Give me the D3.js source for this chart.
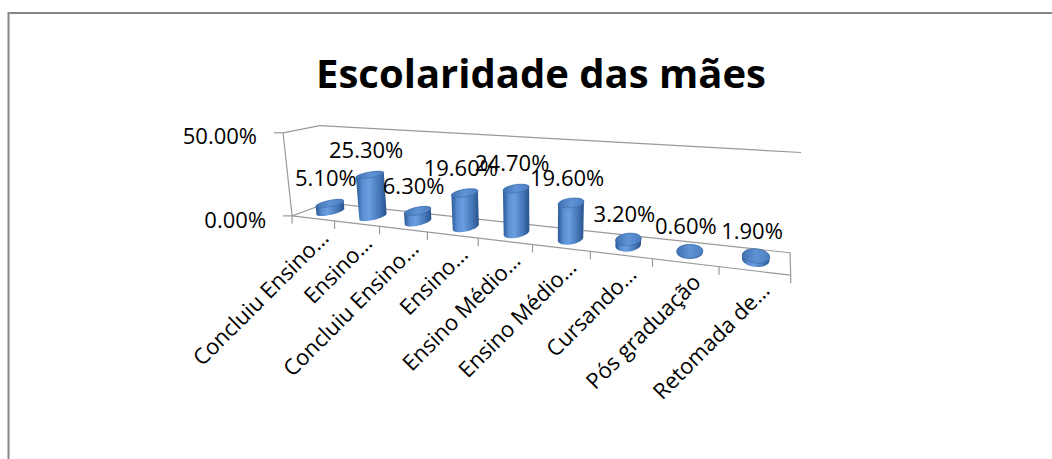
<!DOCTYPE html>
<meta charset="utf-8">
<title>Escolaridade das mães</title>
<style>
body { margin: 0; background: #fff; }
text { font-family: "Open Sans", sans-serif; fill: #000; }
</style>
<body>
<script src="https://d3js.org/d3.v7.min.js"></script>
<script>

var title = "Escolaridade das mães";
var categories = ["Concluiu Ensino…", "Ensino…", "Concluiu Ensino…", "Ensino…",
                  "Ensino Médio…", "Ensino Médio…", "Cursando…", "Pós graduação", "Retomada de…"];
var values = [0.051, 0.253, 0.063, 0.196, 0.247, 0.196, 0.032, 0.006, 0.019];
var valueTicks = [0, 0.5];

var width = 1052, height = 459;

var svg = d3.select("body").append("svg")
    .attr("width", width)
    .attr("height", height);

// world space: x = category slot, y = share of value axis, z = depth (0 front, 1 back)
var x = d3.scaleBand().domain(d3.range(categories.length)).range([0, categories.length]);
var y = d3.scaleLinear().domain([0, 0.5]).range([0, 1]);
var nx = categories.length;

// where the box corners / floor ticks land on screen; the camera is fitted to these
var anchors = [
  [[0, 0, 0], [293, 216]], [[1, 0, 0], [335, 221]], [[2, 0, 0], [378, 226]],
  [[3, 0, 0], [427, 232]], [[4, 0, 0], [477, 238]], [[5, 0, 0], [533, 245]],
  [[6, 0, 0], [592, 252]], [[7, 0, 0], [652, 259]], [[8, 0, 0], [720, 266]],
  [[9, 0, 0], [790, 274]],
  [[9, 0, 1], [790, 253]],
  [[0, 1, 1], [320, 125]], [[9, 1, 1], [801, 153]],
  [[0, 1, 0], [283, 133]]
];

var cx0 = 540, cy0 = 200, cs = 250;
var cam = fitCamera(anchors);

function project(X, Y, Z) {
  var w = cam[8] * X + cam[9] * Y + cam[10] * Z + 1;
  return [
    cx0 + cs * (cam[0] * X + cam[1] * Y + cam[2] * Z + cam[3]) / w,
    cy0 + cs * (cam[4] * X + cam[5] * Y + cam[6] * Z + cam[7]) / w
  ];
}

function fitCamera(pts) {
  var A = [], b = [];
  pts.forEach(function(p) {
    var X = p[0][0], Y = p[0][1], Z = p[0][2];
    var u = (p[1][0] - cx0) / cs, v = (p[1][1] - cy0) / cs;
    A.push([X, Y, Z, 1, 0, 0, 0, 0, -u * X, -u * Y, -u * Z]); b.push(u);
    A.push([0, 0, 0, 0, X, Y, Z, 1, -v * X, -v * Y, -v * Z]); b.push(v);
  });
  var n = 11, M = [], r = [], i, j, k;
  for (i = 0; i < n; i++) {
    M.push([]); r.push(0);
    for (j = 0; j < n; j++) {
      var s = 0;
      for (k = 0; k < A.length; k++) s += A[k][i] * A[k][j];
      M[i].push(s);
    }
    for (k = 0; k < A.length; k++) r[i] += A[k][i] * b[k];
  }
  for (var c = 0; c < n; c++) {
    var piv = c;
    for (i = c + 1; i < n; i++) if (Math.abs(M[i][c]) > Math.abs(M[piv][c])) piv = i;
    var t = M[c]; M[c] = M[piv]; M[piv] = t;
    t = r[c]; r[c] = r[piv]; r[piv] = t;
    for (i = c + 1; i < n; i++) {
      var f = M[i][c] / M[c][c];
      for (j = c; j < n; j++) M[i][j] -= f * M[c][j];
      r[i] -= f * r[c];
    }
  }
  var p = new Array(n);
  for (i = n - 1; i >= 0; i--) {
    var s2 = r[i];
    for (j = i + 1; j < n; j++) s2 -= M[i][j] * p[j];
    p[i] = s2 / M[i][i];
  }
  return p;
}

// chart border (runs off the right and bottom of the picture)
svg.append("rect")
    .attr("x", 8.5).attr("y", 13)
    .attr("width", 1100).attr("height", 500)
    .attr("fill", "#fff")
    .attr("stroke", "#868686")
    .attr("stroke-width", 2);

svg.append("text")
    .attr("x", 541).attr("y", 88)
    .attr("text-anchor", "middle")
    .style("font-size", "40px")
    .style("font-weight", "bold")
    .text(title);

var defs = svg.append("defs");
var bodyGrad = defs.append("linearGradient").attr("id", "cylBody");
[[0, "#2b5896"], [0.22, "#5a8fd1"], [0.42, "#6b9ee0"], [0.75, "#4678b9"], [1, "#28528c"]]
  .forEach(function(s) { bodyGrad.append("stop").attr("offset", s[0]).attr("stop-color", s[1]); });
var topGrad = defs.append("linearGradient").attr("id", "cylTop");
[[0, "#3f72b3"], [0.5, "#5f93d4"], [1, "#4a7ec0"]]
  .forEach(function(s) { topGrad.append("stop").attr("offset", s[0]).attr("stop-color", s[1]); });

var line = d3.line();
var grid = svg.append("g")
    .attr("fill", "none")
    .attr("stroke", "#9a9a9a")
    .attr("stroke-width", 1.2);

var edges = [
  [[0, 0, 0], [0, 1, 0]],
  [[0, 1, 0], [0, 1, 1]],
  [[0, 1, 1], [nx, 1, 1]],
  [[0, 0, 0], [0, 0, 1]],
  [[0, 0, 1], [nx, 0, 1]],
  [[0, 0, 0], [nx, 0, 0]],
  [[nx, 0, 0], [nx, 0, 1]]
];
grid.selectAll("path.edge")
  .data(edges)
  .enter().append("path")
    .attr("class", "edge")
    .attr("d", function(e) { return line([project.apply(null, e[0]), project.apply(null, e[1])]); });

// category ticks along the front of the floor
grid.selectAll("path.xtick")
  .data(d3.range(nx + 1))
  .enter().append("path")
    .attr("class", "xtick")
    .attr("d", function(k) { var p = project(k, 0, 0); return line([p, [p[0], p[1] + 8]]); });

// value axis ticks + labels
grid.selectAll("path.ytick")
  .data(valueTicks)
  .enter().append("path")
    .attr("class", "ytick")
    .attr("d", function(v) { var p = project(0, y(v), 0); return line([p, [p[0] - 9, p[1]]]); });

svg.selectAll("text.ylab")
  .data(valueTicks)
  .enter().append("text")
    .attr("class", "ylab")
    .attr("x", function(v) { return project(0, y(v), 0)[0] - 26; })
    .attr("y", function(v) { return project(0, y(v), 0)[1] + 4; })
    .attr("dy", "0.35em")
    .attr("text-anchor", "end")
    .style("font-size", "22px")
    .text(function(v) { return d3.format(".2%")(v); });

// cylinders
var rx = 0.2, rz = 0.33;
function ring(cxw, Y) {
  return d3.range(64).map(function(k) {
    var a = k / 64 * 2 * Math.PI;
    return project(cxw + rx * Math.cos(a), Y, 0.5 + rz * Math.sin(a));
  });
}

var cyl = svg.selectAll("g.cyl")
  .data(values)
  .enter().append("g")
    .attr("class", "cyl");

cyl.append("path")
    .attr("d", function(v, i) {
      var c = x(i) + x.bandwidth() / 2;
      var hull = d3.polygonHull(ring(c, 0).concat(ring(c, y(v))));
      return line(hull) + "Z";
    })
    .attr("fill", "url(#cylBody)");

cyl.append("path")
    .attr("d", function(v, i) {
      var c = x(i) + x.bandwidth() / 2;
      return line(ring(c, y(v))) + "Z";
    })
    .attr("fill", "url(#cylTop)")
    .attr("stroke", "#3a69a8")
    .attr("stroke-width", 0.6);

// data labels
svg.selectAll("text.dlab")
  .data(values)
  .enter().append("text")
    .attr("class", "dlab")
    .attr("x", function(v, i) { return project(x(i) + x.bandwidth() / 2, y(v), 0.5)[0] - 4; })
    .attr("y", function(v, i) { return project(x(i) + x.bandwidth() / 2, y(v), 0.5)[1] - 17; })
    .attr("text-anchor", "middle")
    .style("font-size", "22px")
    .text(function(v) { return d3.format(".2%")(v); });

// category labels
svg.selectAll("text.xlab")
  .data(categories)
  .enter().append("text")
    .attr("class", "xlab")
    .attr("text-anchor", "end")
    .attr("transform", function(d, i) {
      var p = project(x(i) + x.bandwidth() / 2, 0, 0);
      return "translate(" + (p[0] + 17) + "," + (p[1] + 21) + ") rotate(-45)";
    })
    .style("font-size", "22px")
    .text(function(d) { return d; });

</script>
</body>
